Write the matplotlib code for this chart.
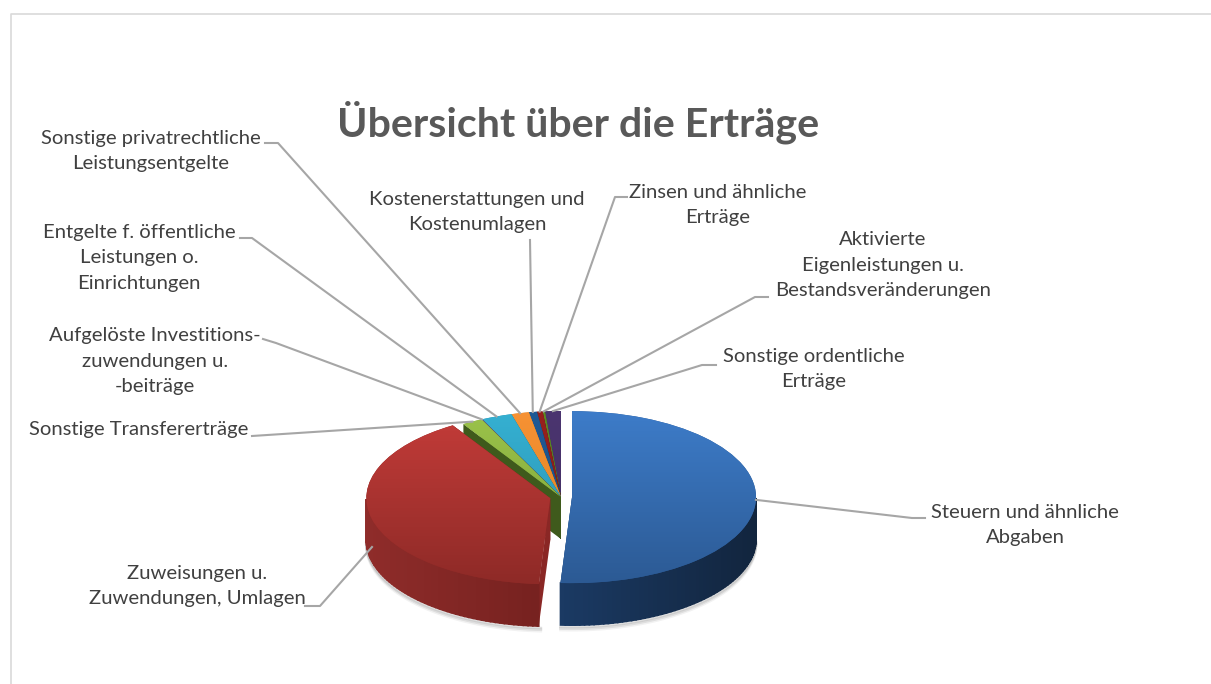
import matplotlib.pyplot as plt
import numpy as np
from matplotlib.colors import LinearSegmentedColormap, to_rgb
from matplotlib.patches import Polygon

plt.rcParams['font.family'] = ['Lato', 'DejaVu Sans']

title = 'Übersicht über die Erträge'
labels = ['Steuern und ähnliche\nAbgaben',
          'Zuweisungen u.\nZuwendungen, Umlagen',
          'Sonstige Transfererträge',
          'Aufgelöste Investitions-\nzuwendungen u.\n-beiträge',
          'Entgelte f. öffentliche\nLeistungen o.\nEinrichtungen',
          'Sonstige privatrechtliche\nLeistungsentgelte',
          'Kostenerstattungen und\nKostenumlagen',
          'Zinsen und ähnliche\nErträge',
          'Aktivierte\nEigenleistungen u.\nBestandsveränderungen',
          'Sonstige ordentliche\nErträge']
values = [51.0, 40.1, 1.8, 0.05, 2.7, 1.55, 0.7, 0.5, 0.2, 1.4]

explode = [0.06, 0.06, 0, 0, 0, 0, 0, 0, 0, 0]
# Farben: oben hell, oben dunkel, Seite links, Seite rechts
top_light = ['#3d7cc9', '#c43c39', '#9bc34a', '#7a5ba6', '#35b0d2', '#f79234', '#1f5a96', '#98201d', '#5f8a26', '#4b3570']
top_dark = ['#2c5a94', '#8e2a27', '#7a9e36', '#5c4580', '#2a8fab', '#d9801f', '#1a4a7c', '#7c1a18', '#4c6f1e', '#3f2c5e']
side_left = ['#1b3b65', '#8f2c2a', '#3f5a1c', '#33254d', '#1d6478', '#9a5712', '#12304f', '#5e1412', '#334b14', '#2b1e40']
side_right = ['#12253e', '#5b1614', '#3f5a1c', '#33254d', '#1d6478', '#9a5712', '#12304f', '#5e1412', '#334b14', '#2b1e40']

# Beschriftungen: Pixelposition, Ausrichtung, Knickpunkt der Linie
label_pos = [(1025, 525, 'center'), (197, 586, 'center'), (139, 429, 'center'), (155, 361, 'center'),
             (139, 258, 'center'), (151, 151, 'center'), (477, 212, 'center'), (718, 205, 'center'),
             (883, 265, 'center'), (814, 369, 'center')]
elbows = [[(925, 518), (912, 518)], [(305, 606), (320, 606)], [(252, 436)], [(263, 339), (276, 343)],
          [(240, 238), (252, 238)], [(265, 143), (278, 143)], [(530, 240)], [(627, 197), (615, 197)],
          [(768, 297), (755, 297)], [(716, 365), (702, 365)]]

W, H = 1211, 684
cx, cy, rx, ry, depth = 561, 497, 184, 86, 42
k = ry / rx  # Stauchung der Ellipse

fig = plt.figure(figsize=(W / 100, H / 100), dpi=100, facecolor='white')
ax = fig.add_axes([0, 0, 1, 1])
# explode wirkt in Dateneinheiten, darum mit dem Radius multiplizieren
wedges, _ = ax.pie(values, explode=[e * rx for e in explode], radius=rx, center=(cx, (H - cy) / k),
                   startangle=90, counterclock=False, wedgeprops={'linewidth': 0})
ax.set_aspect('auto')
ax.set_xlim(0, W)
ax.set_ylim(0, H / k)
ax.axis('off')
d = depth / k

# Reihenfolge: die kleinen Stücke von rechts nach links, dann Rot, dann Blau
order = list(range(len(values) - 1, 1, -1)) + [1, 0]
z = 2
for i in order:
    w = wedges[i]
    x0, y0 = w.center
    c1, c2 = np.array(to_rgb(side_left[i])), np.array(to_rgb(side_right[i]))

    # Schatten unter dem Rand
    th = np.radians(np.arange(w.theta1, w.theta2 + 1, 1))
    front = np.sin(th) < 0
    if i < 2:
        for s, a in [(5, 0.05), (3.5, 0.08), (2, 0.12)]:
            ax.plot(x0 + rx * np.cos(th[front]), y0 + rx * np.sin(th[front]) - d - s / k,
                    color='black', alpha=a, lw=2, zorder=1)

    # Schnittflächen
    for t in [w.theta1, w.theta2]:
        ex, ey = x0 + rx * np.cos(np.radians(t)), y0 + rx * np.sin(np.radians(t))
        ax.add_patch(Polygon([(x0, y0), (ex, ey), (ex, ey - d), (x0, y0 - d)], closed=True,
                             facecolor=side_left[i] if i != 1 else '#8a2725', edgecolor='none', zorder=z))
    z += 1

    # Seitenwand in schmalen Streifen
    angles = np.arange(w.theta1, w.theta2 + 1.5, 1.5)
    for a, b in zip(angles[:-1], angles[1:]):
        b = min(b, w.theta2)
        if np.sin(np.radians((a + b) / 2)) >= 0:
            continue
        xa, ya = x0 + rx * np.cos(np.radians(a)), y0 + rx * np.sin(np.radians(a))
        xb, yb = x0 + rx * np.cos(np.radians(b)), y0 + rx * np.sin(np.radians(b))
        f = ((xa + xb) / 2 - (x0 - rx)) / (2 * rx)
        if i == 0:
            f = (f - 0.45) / 0.55
        col = c1 + (c2 - c1) * np.clip(f, 0, 1)
        ax.add_patch(Polygon([(xa, ya), (xb, yb), (xb, yb - d), (xa, ya - d)], closed=True,
                             facecolor=col, edgecolor=col, lw=1.2, zorder=z))
    z += 1

    # Deckfläche mit Verlauf
    w.set_zorder(z)
    w.set_facecolor(top_dark[i])
    cmap = LinearSegmentedColormap.from_list('top', [top_light[i], top_dark[i]])
    im = ax.imshow(np.linspace(0, 1, 256).reshape(-1, 1), cmap=cmap, aspect='auto', origin='upper',
                   extent=(x0 - rx, x0 + rx, y0 - rx, y0 + rx), zorder=z + 1)
    im.set_clip_path(w)
    z += 2

ax.set_xlim(0, W)
ax.set_ylim(0, H / k)

# Text und Linien in Pixelkoordinaten
over = fig.add_axes([0, 0, 1, 1])
over.set_xlim(0, W)
over.set_ylim(H, 0)
over.axis('off')
over.patch.set_alpha(0)

over.plot([W, 10.5, 10.5], [14, 14, H], color='#d9d9d9', lw=1.2)
over.text(578, 122, title, fontsize=29.6, fontweight='bold', color='#595959', ha='center', va='center')

for i, lab in enumerate(labels):
    w = wedges[i]
    mid = np.radians((w.theta1 + w.theta2) / 2)
    ex = w.center[0] + rx * np.cos(mid)
    ey = H - (w.center[1] + rx * np.sin(mid)) * k
    if i == 1:
        ey = 547
        ex = 372
    pts = elbows[i] + [(ex, ey)]
    over.plot([p[0] for p in pts], [p[1] for p in pts], color='#a6a6a6', lw=1.5, zorder=1)
    lx, ly, ha = label_pos[i]
    over.text(lx, ly, lab, fontsize=14.6, color='#404040', ha=ha, va='center', linespacing=1.62)

fig.savefig('out.png', dpi=100)
